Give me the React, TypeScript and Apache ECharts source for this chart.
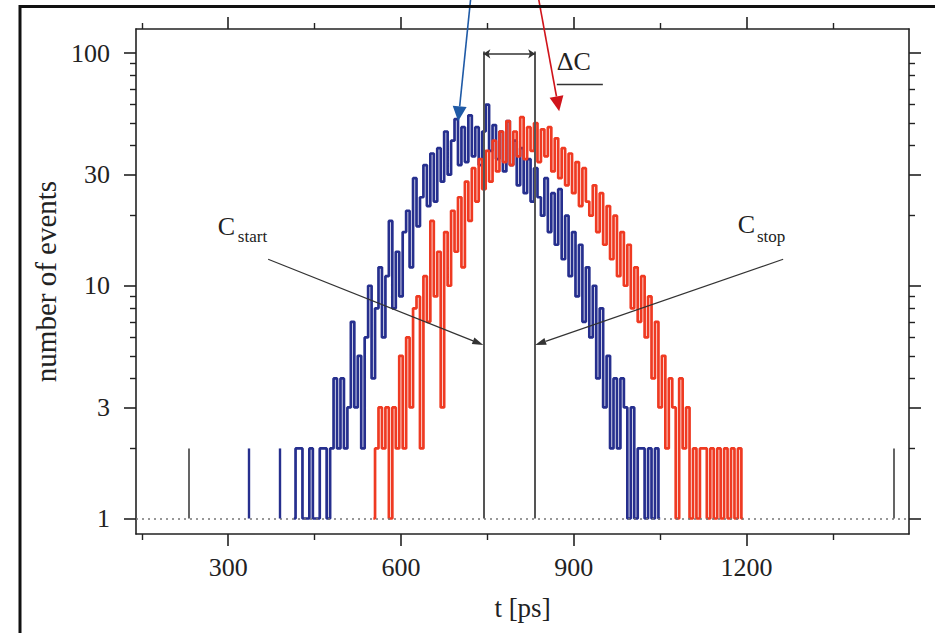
import { useEffect, useRef } from "react";
import * as echarts from "echarts";

// Histogram bins are 6 ps wide; each count belongs to the bin centred at first + i * BIN_PS.
const BIN_PS = 6;

const blueFirstBin = 414;
const blueCounts = [
  1, 2, 2, 1, 1, 2, 1, 1, 2, 2,
  1, 2, 4, 2, 4, 2, 3, 7, 3, 5,
  2, 6, 10, 4, 8, 12, 6, 11, 19, 8,
  14, 9, 17, 21, 12, 29, 18, 24, 33, 22,
  37, 23, 39, 28, 46, 30, 42, 52, 33, 48,
  34, 54, 36, 48, 33, 46, 60, 38, 49, 35,
  46, 31, 51, 33, 42, 27, 39, 25, 35, 23,
  32, 24, 20, 29, 17, 25, 15, 26, 13, 20,
  11, 17, 9, 15, 7, 12, 6, 10, 4, 8,
  3, 5, 2, 4, 2, 4, 3, 1, 3, 1,
  2, 2, 1, 2, 1, 2, 1,
];

const redFirstBin = 552;
const redCounts = [
  1, 2, 3, 2, 3, 1, 3, 2, 5, 2,
  6, 3, 8, 9, 2, 11, 7, 19, 9, 14,
  3, 17, 10, 21, 14, 24, 12, 28, 19, 32,
  23, 35, 26, 38, 28, 42, 31, 46, 34, 51,
  33, 46, 36, 53, 35, 48, 38, 50, 34, 47,
  36, 48, 31, 43, 29, 39, 27, 37, 25, 34,
  22, 32, 23, 20, 27, 17, 25, 15, 22, 13,
  20, 11, 17, 10, 15, 8, 12, 7, 11, 6,
  9, 4, 7, 3, 5, 2, 4, 3, 1, 4,
  2, 3, 1, 2, 1, 2, 2, 1, 2, 1,
  2, 1, 2, 1, 2, 1, 2, 1,
];

// isolated events (count 2 above the floor of 1) outside the main distributions
const strayGrey = [232, 1456];
const strayBlue = [336, 390];

const xMajorTicks = [300, 600, 900, 1200];
const xMinorTicks = [150, 450, 750, 1050, 1350];
const yMajorTicks = [1, 3, 10, 30, 100];
const yMinorTicks = [2, 4, 5, 6, 7, 8, 9, 20, 40, 50, 60, 70, 80, 90];

const X_MIN = 140;
const X_MAX = 1482;
const Y_MIN = 0.858;
const Y_MAX = 126.8;

// centroid positions of the two peaks (ps)
const cStart = 743;
const cStop = 833;

const FONT = '"Liberation Serif", "Times New Roman", serif';
const INK = "#222";
const BLUE = "#262f8e";
const RED = "#ef3a22";

function toSteps(first: number, counts: number[]) {
  return counts.map((c, i) => [first + i * BIN_PS, c]);
}

export default function App() {
  const ref = useRef<HTMLDivElement>(null);

  useEffect(() => {
    const el = ref.current;
    if (!el) return;
    const chart = echarts.init(el, null, { renderer: "svg" });

    const axisLineOn = { show: true, onZero: false, lineStyle: { color: INK, width: 1.6 } };
    const axisLineOff = { show: false, onZero: false };
    const majorTick = (values: number[]) => ({
      show: true,
      inside: false,
      length: 12,
      customValues: values,
      lineStyle: { color: INK, width: 1.6 },
    });
    const minorTick = (values: number[]) => ({
      show: true,
      inside: false,
      length: 6,
      customValues: values,
      lineStyle: { color: INK, width: 1.4 },
    });
    const noLabel = { show: false };
    const tickLabel = (values: number[], margin: number) => ({
      show: true,
      customValues: values,
      margin,
      color: INK,
      fontFamily: FONT,
      fontSize: 26,
      formatter: (v: number) => String(v),
    });

    const xBase = {
      type: "value",
      min: X_MIN,
      max: X_MAX,
      splitLine: { show: false },
      gridIndex: 0,
    };
    const yBase = {
      type: "log",
      logBase: 10,
      min: Y_MIN,
      max: Y_MAX,
      splitLine: { show: false },
      gridIndex: 0,
    };

    const plainMarkLine = {
      silent: true,
      symbol: "none",
      label: { show: false },
      emphasis: { disabled: true },
      animation: false,
    };

    const spikes = (ts: number[]) => ts.map((t) => [{ coord: [t, 1] }, { coord: [t, 2] }]);

    chart.setOption({
      animation: false,
      backgroundColor: "#ffffff",
      grid: { left: 136, top: 29, width: 773, height: 505, containLabel: false },
      xAxis: [
        {
          ...xBase,
          position: "bottom",
          axisLine: axisLineOn,
          axisTick: majorTick(xMajorTicks),
          axisLabel: tickLabel(xMajorTicks, 20),
          name: "t [ps]",
          nameLocation: "middle",
          nameGap: 60,
          nameTextStyle: { fontFamily: FONT, fontSize: 27, color: INK },
        },
        { ...xBase, position: "bottom", axisLine: axisLineOff, axisTick: minorTick(xMinorTicks), axisLabel: noLabel },
        { ...xBase, position: "top", axisLine: axisLineOn, axisTick: majorTick(xMajorTicks), axisLabel: noLabel },
        { ...xBase, position: "top", axisLine: axisLineOff, axisTick: minorTick(xMinorTicks), axisLabel: noLabel },
      ],
      yAxis: [
        {
          ...yBase,
          position: "left",
          axisLine: axisLineOn,
          axisTick: majorTick(yMajorTicks),
          axisLabel: tickLabel(yMajorTicks, 26),
          name: "number of events",
          nameLocation: "middle",
          nameGap: 76,
          nameTextStyle: { fontFamily: FONT, fontSize: 29, color: INK },
        },
        { ...yBase, position: "left", axisLine: axisLineOff, axisTick: minorTick(yMinorTicks), axisLabel: noLabel },
        { ...yBase, position: "right", axisLine: axisLineOn, axisTick: majorTick(yMajorTicks), axisLabel: noLabel },
        { ...yBase, position: "right", axisLine: axisLineOff, axisTick: minorTick(yMinorTicks), axisLabel: noLabel },
      ],
      series: [
        {
          name: "floor",
          type: "line",
          data: [],
          xAxisIndex: 0,
          yAxisIndex: 0,
          z: 1,
          markLine: {
            ...plainMarkLine,
            lineStyle: { color: "#777", width: 1.6, type: [2, 4] },
            data: [{ yAxis: 1 }],
          },
        },
        {
          name: "stray grey",
          type: "line",
          data: [],
          xAxisIndex: 0,
          yAxisIndex: 0,
          z: 2,
          markLine: {
            ...plainMarkLine,
            lineStyle: { color: "#555", width: 1.8, type: "solid" },
            data: spikes(strayGrey),
          },
        },
        {
          name: "stray blue",
          type: "line",
          data: [],
          xAxisIndex: 0,
          yAxisIndex: 0,
          z: 2,
          markLine: {
            ...plainMarkLine,
            lineStyle: { color: BLUE, width: 2.4, type: "solid" },
            data: spikes(strayBlue),
          },
        },
        {
          name: "start detector",
          type: "line",
          step: "middle",
          data: toSteps(blueFirstBin, blueCounts),
          xAxisIndex: 0,
          yAxisIndex: 0,
          showSymbol: false,
          symbol: "none",
          z: 3,
          lineStyle: { color: BLUE, width: 2.7 },
          emphasis: { disabled: true },
        },
        {
          name: "stop detector",
          type: "line",
          step: "middle",
          data: toSteps(redFirstBin, redCounts),
          xAxisIndex: 0,
          yAxisIndex: 0,
          showSymbol: false,
          symbol: "none",
          z: 4,
          lineStyle: { color: RED, width: 2.7 },
          emphasis: { disabled: true },
        },
        {
          name: "centroids",
          type: "line",
          data: [],
          xAxisIndex: 0,
          yAxisIndex: 0,
          z: 5,
          markLine: {
            ...plainMarkLine,
            lineStyle: { color: "#555", width: 2, type: "solid" },
            data: [
              [{ coord: [cStart, 1] }, { coord: [cStart, 101.6] }],
              [{ coord: [cStop, 1] }, { coord: [cStop, 101.6] }],
            ],
          },
        },
        {
          name: "delta",
          type: "line",
          data: [],
          xAxisIndex: 0,
          yAxisIndex: 0,
          z: 5,
          markLine: {
            ...plainMarkLine,
            symbol: ["arrow", "arrow"],
            symbolSize: [7, 7],
            lineStyle: { color: "#333", width: 1.6, type: "solid" },
            data: [[{ coord: [cStart, 99.2] }, { coord: [cStop, 99.2] }]],
          },
        },
      ],
    });

    const px = (t: number, v: number) =>
      chart.convertToPixel({ xAxisIndex: 0, yAxisIndex: 0 }, [t, v]) as number[];

    const arrow = (
      from: number[],
      to: number[],
      color: string,
      width: number,
      headLen: number,
      headHalf: number
    ) => {
      const dx = to[0] - from[0];
      const dy = to[1] - from[1];
      const len = Math.hypot(dx, dy);
      const ux = dx / len;
      const uy = dy / len;
      const bx = to[0] - ux * headLen;
      const by = to[1] - uy * headLen;
      const nx = -uy;
      const ny = ux;
      return [
        {
          type: "line",
          silent: true,
          shape: { x1: from[0], y1: from[1], x2: bx, y2: by },
          style: { stroke: color, lineWidth: width },
          z: 20,
        },
        {
          type: "polygon",
          silent: true,
          shape: {
            points: [
              [to[0], to[1]],
              [bx + nx * headHalf, by + ny * headHalf],
              [bx - nx * headHalf, by - ny * headHalf],
            ],
          },
          style: { fill: color },
          z: 20,
        },
      ];
    };

    const text = (p: number[], str: string, size: number) => ({
      type: "text",
      silent: true,
      x: p[0],
      y: p[1],
      z: 20,
      style: {
        text: str,
        font: `${size}px ${FONT}`,
        fill: INK,
        align: "left",
        verticalAlign: "middle",
        textAlign: "left",
        textVerticalAlign: "middle",
      },
    });

    const underlineL = px(870.6, 73.2);
    const underlineR = px(950.5, 73.2);

    chart.setOption({
      graphic: {
        elements: [
          {
            type: "rect",
            silent: true,
            shape: { x: 20, y: 6.5, width: 1000, height: 1000 },
            style: { fill: "none", stroke: "#111", lineWidth: 3 },
            z: 30,
          },
          ...arrow(px(721.4, 175), px(699.3, 50.9), "#1f5aa6", 1.6, 15, 7),
          ...arrow(px(838.2, 175), px(874.7, 56.2), "#d0141b", 1.6, 15, 7),
          ...arrow(px(369.4, 13.0), px(cStart, 5.57), "#333", 1.2, 11, 3.5),
          ...arrow(px(1263.5, 13.0), px(cStop, 5.57), "#333", 1.2, 11, 3.5),
          text(px(282.1, 17.9), "C", 26),
          text(px(316.8, 16.2), "start", 17),
          text(px(1184.9, 18.3), "C", 26),
          text(px(1217.9, 16.2), "stop", 17),
          text(px(870.6, 91.5), "ΔC", 26),
          {
            type: "line",
            silent: true,
            shape: { x1: underlineL[0], y1: underlineL[1], x2: underlineR[0], y2: underlineR[1] },
            style: { stroke: "#333", lineWidth: 1.4 },
            z: 20,
          },
        ],
      },
    });

    return () => {
      chart.dispose();
    };
  }, []);

  return (
    <div
      ref={ref}
      style={{ position: "fixed", left: 0, top: 0, width: 935, height: 633, background: "#fff" }}
    />
  );
}
